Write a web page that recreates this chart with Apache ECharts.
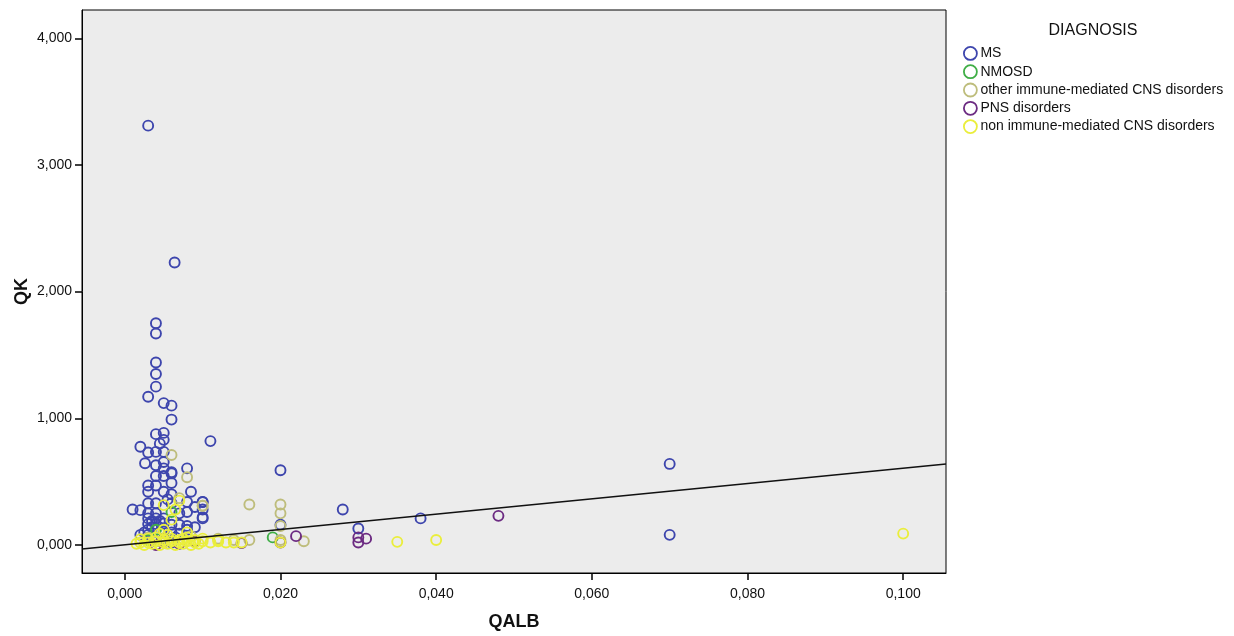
<!DOCTYPE html>
<html><head><meta charset="utf-8">
<script src="https://cdn.jsdelivr.net/npm/echarts@6/dist/echarts.min.js"></script>
<style>html,body{margin:0;padding:0;background:#fff}#c{width:1234px;height:636px}</style>
</head><body><div id="c"></div>
<script>
const categories = ['MS','NMOSD','other immune-mediated CNS disorders','PNS disorders','non immune-mediated CNS disorders'];
const xTicks = [0, 0.02, 0.04, 0.06, 0.08, 0.10];
const yTicks = [0, 1, 2, 3, 4];

const msQalb = [0.003,0.0064,0.004,0.004,0.004,0.004,0.004,0.003,0.005,0.006,0.006,0.011,0.004,0.005,0.005,0.0045,0.002,0.003,0.004,0.005,
  0.0026,0.004,0.005,0.005,0.008,0.006,0.004,0.005,0.006,0.003,0.004,0.006,0.003,0.005,0.006,0.0085,0.003,0.004,0.006,0.008,
  0.010,0.001,0.002,0.009,0.010,0.003,0.004,0.007,0.008,0.003,0.004,0.005,0.010,0.003,0.004,0.005,0.006,0.007,0.008,0.003,
  0.005,0.006,0.008,0.002,0.003,0.004,0.005,0.004,0.006,0.070,0.070,0.038,0.028,0.020,0.030,0.020,0.010,0.010,0.0045,0.0035,
  0.0035,0.0055,0.0045,0.007,0.0025,0.0065,0.009,0.0035];
const msQk = [3.31,2.23,1.75,1.67,1.44,1.35,1.25,1.17,1.12,1.10,0.99,0.82,0.875,0.885,0.83,0.80,0.775,0.73,0.735,0.735,
  0.645,0.63,0.655,0.605,0.605,0.575,0.545,0.545,0.565,0.47,0.47,0.49,0.42,0.42,0.40,0.42,0.33,0.33,0.33,0.34,
  0.34,0.28,0.275,0.30,0.28,0.25,0.25,0.25,0.26,0.21,0.21,0.21,0.21,0.165,0.165,0.17,0.16,0.16,0.15,0.12,
  0.11,0.10,0.12,0.08,0.08,0.06,0.05,0.03,0.02,0.64,0.08,0.21,0.28,0.59,0.13,0.16,0.34,0.22,0.19,0.14,
  0.19,0.36,0.10,0.09,0.10,0.06,0.14,0.04];

const nmosdQalb = [0.006,0.004,0.019,0.003];
const nmosdQk   = [0.26,0.12,0.06,0.04];

const otherQalb = [0.006,0.008,0.007,0.010,0.016,0.020,0.020,0.020,0.020,0.023,0.016,0.0085,0.012,0.014,0.003,0.010];
const otherQk   = [0.71,0.535,0.37,0.31,0.32,0.32,0.25,0.15,0.04,0.03,0.04,0.07,0.05,0.04,0.06,0.31];

const pnsQalb = [0.048,0.022,0.031,0.030,0.030,0.015,0.005,0.007,0.009,0.004,0.020];
const pnsQk   = [0.23,0.07,0.05,0.06,0.02,0.015,0.02,0.01,0.03,0.0,0.02];

const nonQalb = [0.100,0.040,0.035,0.005,0.006,0.007,0.005,0.008,0.0065,0.0075,
  0.0015,0.002,0.0025,0.003,0.0035,0.004,0.0045,0.005,0.0055,0.006,0.0065,0.007,0.0075,0.008,0.0085,0.009,0.0095,0.010,0.011,0.012,
  0.013,0.014,0.015,0.002,0.003,0.004,0.005,0.006,0.007,0.008,0.009,0.010,0.012,0.020,0.0045,0.0055];
const nonQk = [0.09,0.04,0.025,0.315,0.20,0.35,0.12,0.10,0.28,0.05,
  0.01,0.02,0.00,0.02,0.01,0.03,0.00,0.02,0.01,0.03,0.00,0.02,0.01,0.03,0.00,0.02,0.01,0.03,0.02,0.03,
  0.02,0.02,0.02,0.045,0.05,0.06,0.04,0.05,0.04,0.06,0.04,0.05,0.04,0.02,0.09,0.08];

const fitIntercept = 0.002;
const fitSlope = 6.05;
const xMin = -0.0055, xMax = 0.1055, yMin = -0.221, yMax = 4.223;

const colors = ['#3d45ad','#3fae46','#bebd7c','#6c2b82','#eaee3c'];
const zip = (a, b) => a.map((v, i) => [v, b[i]]);
const seriesData = [zip(msQalb, msQk), zip(nmosdQalb, nmosdQk), zip(otherQalb, otherQk), zip(pnsQalb, pnsQk), zip(nonQalb, nonQk)];
const fmt = v => v.toFixed(3).replace('.', ',');

const chart = echarts.init(document.getElementById('c'), null, {renderer: 'canvas'});
const font = 'Liberation Sans, Arial, sans-serif';
chart.setOption({
  animation: false,
  textStyle: {fontFamily: font},
  title: {text: 'DIAGNOSIS', left: 1093, top: 23, textAlign: 'center', padding: 0,
    textStyle: {fontSize: 16, fontWeight: 'normal', color: '#111', fontFamily: font}},
  legend: {
    orient: 'vertical', left: 963, top: 46, padding: 0, itemWidth: 14, itemHeight: 13, itemGap: 3.5,
    textStyle: {fontSize: 14, color: '#111', fontFamily: font, padding: [0, 0, 0, -2]},
    data: categories.map((c, i) => ({name: c, icon: 'circle',
      itemStyle: {color: 'rgba(0,0,0,0)', borderColor: colors[i], borderWidth: 1.8}}))
  },
  grid: {left: 82, right: 288, top: 10, bottom: 63, outerBoundsMode: 'none', containLabel: false,
    show: true, backgroundColor: '#ececec', borderColor: '#000', borderWidth: 1},
  xAxis: {
    type: 'value', min: xMin, max: xMax, name: 'QALB', nameLocation: 'middle', nameGap: 40, nameMoveOverlap: false,
    nameTextStyle: {fontSize: 18, fontWeight: 'bold', color: '#111', fontFamily: font},
    axisLine: {show: true, onZero: false, lineStyle: {color: '#000', width: 1}},
    axisTick: {show: true, length: 7, customValues: xTicks, lineStyle: {color: '#000', width: 1.5}},
    axisLabel: {customValues: xTicks, formatter: fmt, fontSize: 14, color: '#111', margin: 14},
    splitLine: {show: false}
  },
  yAxis: {
    type: 'value', min: yMin, max: yMax, name: 'QK', nameLocation: 'middle', nameGap: 51, nameMoveOverlap: false,
    nameTextStyle: {fontSize: 18, fontWeight: 'bold', color: '#111', fontFamily: font},
    axisLine: {show: true, onZero: false, lineStyle: {color: '#000', width: 1}},
    axisTick: {show: true, length: 7, customValues: yTicks, lineStyle: {color: '#000', width: 1.5}},
    axisLabel: {customValues: yTicks, formatter: fmt, fontSize: 14, color: '#111', margin: 10},
    splitLine: {show: false}
  },
  series: categories.map((c, i) => ({
    name: c, type: 'scatter', symbol: 'circle', symbolSize: 10, data: seriesData[i],
    itemStyle: {color: 'rgba(0,0,0,0)', borderColor: colors[i], borderWidth: 1.9, opacity: 1},
    emphasis: {disabled: true}, z: 2 + i
  })).concat([{
    name: 'fit', type: 'line', showSymbol: false, z: 10,
    data: [[xMin, fitIntercept + fitSlope * xMin], [xMax, fitIntercept + fitSlope * xMax]],
    lineStyle: {color: '#111', width: 1.5}, emphasis: {disabled: true}
  }])
});
</script></body></html>
